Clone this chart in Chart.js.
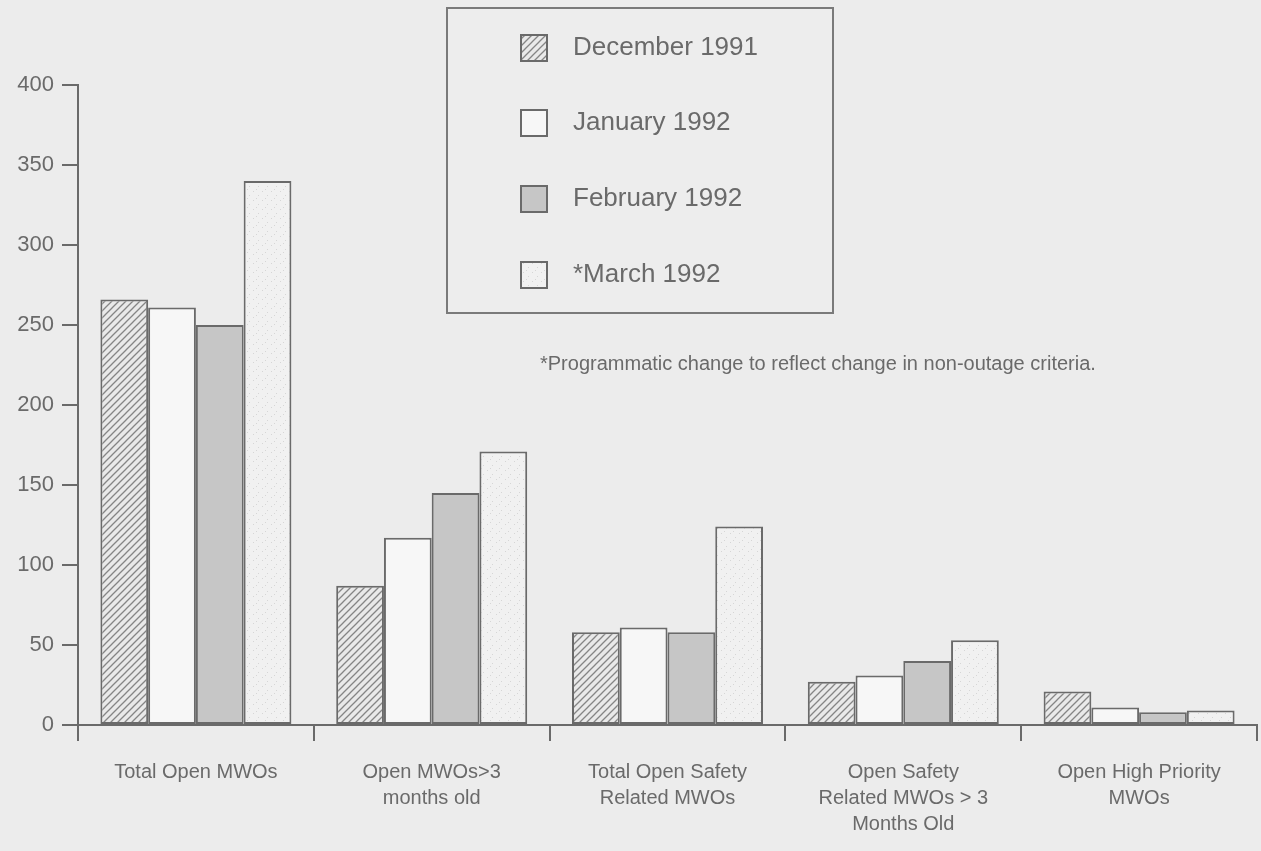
<!DOCTYPE html>
<html>
<head>
<meta charset="utf-8">
<script src="https://cdn.jsdelivr.net/npm/chart.js@4"></script>
<style>
  body { margin: 0; background: #ececec; }
  #wrap { width: 1261px; height: 851px; }
</style>
</head>
<body>
<div id="wrap"><canvas id="mwoChart" width="1261" height="851"></canvas></div>
<script>
// Data
const categories = [
    ['Total Open MWOs'],
    ['Open MWOs>3', 'months old'],
    ['Total Open Safety', 'Related MWOs'],
    ['Open Safety', 'Related MWOs > 3', 'Months Old'],
    ['Open High Priority', 'MWOs']
];
const seriesLabels = ['December 1991', 'January 1992', 'February 1992', '*March 1992'];
const dec1991 = [266, 87, 58, 27, 21];
const jan1992 = [261, 117, 61, 31, 11];
const feb1992 = [250, 145, 58, 40, 8];
const mar1992 = [340, 171, 124, 53, 9];
const yTicks = [0, 50, 100, 150, 200, 250, 300, 350, 400];
const footnote = '*Programmatic change to reflect change in non-outage criteria.';

const ink = '#6a6a6a';
const fontFamily = '"Liberation Sans", Arial, sans-serif';

// Fill patterns
function hatchPattern() {
    const c = document.createElement('canvas');
    c.width = 7; c.height = 7;
    const g = c.getContext('2d');
    g.fillStyle = '#e9e9e9';
    g.fillRect(0, 0, 7, 7);
    g.strokeStyle = '#858585';
    g.lineWidth = 1.3;
    g.beginPath();
    g.moveTo(0, 7); g.lineTo(7, 0);
    g.moveTo(-1, 1); g.lineTo(1, -1);
    g.moveTo(6, 8); g.lineTo(8, 6);
    g.stroke();
    return g.createPattern(c, 'repeat');
}

function stipplePattern() {
    const c = document.createElement('canvas');
    c.width = 9; c.height = 9;
    const g = c.getContext('2d');
    g.fillStyle = '#f1f1f1';
    g.fillRect(0, 0, 9, 9);
    g.fillStyle = '#d6d6d6';
    g.fillRect(1, 2, 1, 1);
    g.fillRect(6, 6, 1, 1);
    g.fillRect(4, 0, 1, 1);
    return g.createPattern(c, 'repeat');
}

const fills = [hatchPattern(), '#f7f7f7', '#c6c6c6', stipplePattern()];
const seriesData = [dec1991, jan1992, feb1992, mar1992];

// Boxed legend and footnote, drawn on top of the chart
const legendBox = {
    id: 'legendBox',
    afterDraw(chart) {
        const ctx = chart.ctx;
        ctx.save();
        ctx.fillStyle = '#ededed';
        ctx.fillRect(447, 8, 386, 305);
        ctx.strokeStyle = '#7a7a7a';
        ctx.lineWidth = 2;
        ctx.strokeRect(447, 8, 386, 305);

        const rows = [48, 123, 199, 275];
        chart.data.datasets.forEach((ds, i) => {
            const y = rows[i];
            ctx.fillStyle = ds.backgroundColor;
            ctx.fillRect(521, y - 13, 26, 26);
            ctx.strokeStyle = ink;
            ctx.lineWidth = 2;
            ctx.strokeRect(521, y - 13, 26, 26);
            ctx.fillStyle = ink;
            ctx.font = '26px ' + fontFamily;
            ctx.textBaseline = 'middle';
            ctx.fillText(ds.label, 573, y);
        });

        ctx.font = '20px ' + fontFamily;
        ctx.fillStyle = ink;
        ctx.textBaseline = 'middle';
        ctx.fillText(footnote, 540, 364);
        ctx.restore();
    }
};

const chart = new Chart(document.getElementById('mwoChart'), {
    type: 'bar',
    data: {
        labels: categories,
        datasets: seriesLabels.map((label, i) => ({
            label: label,
            data: seriesData[i],
            backgroundColor: fills[i],
            borderColor: ink,
            borderWidth: 2,
            borderSkipped: false,
            categoryPercentage: 0.81,
            barPercentage: 1.0
        }))
    },
    options: {
        responsive: false,
        animation: false,
        layout: { padding: { top: 85, right: 4, left: 0, bottom: 0 } },
        plugins: {
            legend: { display: false },
            tooltip: { enabled: false }
        },
        scales: {
            x: {
                grid: {
                    offset: true,
                    drawOnChartArea: false,
                    drawTicks: true,
                    tickLength: 16,
                    color: ink,
                    lineWidth: 2
                },
                border: { color: ink, width: 2 },
                ticks: {
                    color: ink,
                    font: { family: fontFamily, size: 20, lineHeight: 1.3 },
                    padding: 18,
                    maxRotation: 0,
                    autoSkip: false
                },
                afterFit(scale) { scale.height = 126; }
            },
            y: {
                min: 0,
                max: 400,
                afterBuildTicks(scale) { scale.ticks = yTicks.map(v => ({ value: v })); },
                grid: {
                    drawOnChartArea: false,
                    drawTicks: true,
                    tickLength: 16,
                    color: ink,
                    lineWidth: 2
                },
                border: { color: ink, width: 2 },
                ticks: {
                    color: ink,
                    font: { family: fontFamily, size: 22 },
                    padding: 8
                },
                afterFit(scale) { scale.width = 78; }
            }
        }
    },
    plugins: [legendBox]
});
</script>
</body>
</html>
